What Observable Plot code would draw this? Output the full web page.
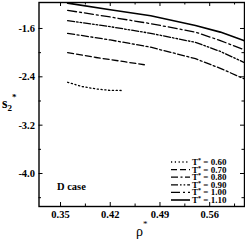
<!DOCTYPE html>
<html><head><meta charset="utf-8">
<script src="https://cdn.jsdelivr.net/npm/d3@7"></script>
<script src="https://cdn.jsdelivr.net/npm/@observablehq/plot@0.6"></script>
<style>
html,body{margin:0;padding:0;background:#fff;}
#chart{position:relative;width:245px;height:241px;}
svg{font-family:"Liberation Serif",serif;}
</style></head>
<body><div id="chart"></div>
<script>
const temps = ["0.60","0.70","0.80","0.90","1.00","1.10"];
const rho06 = [0.36, 0.38, 0.40, 0.42, 0.437];
const s06   = [-2.49, -2.56, -2.60, -2.625, -2.626];
const rho07 = [0.36, 0.40, 0.44, 0.468];
const s07   = [-2.00, -2.08, -2.15, -2.20];
const rhoHi = [0.36, 0.42, 0.477, 0.54, 0.575, 0.608];
const s08   = [-1.68, -1.79, -1.91, -2.10, -2.26, -2.43];
const s09   = [-1.47, -1.57, -1.68, -1.83, -1.98, -2.16];
const s10   = [-1.30, -1.41, -1.52, -1.66, -1.80, -1.95];
const s11   = [-1.18, -1.29, -1.39, -1.55, -1.66, -1.80];
const xTicks = [0.35, 0.42, 0.49, 0.56];
const xMinor = [0.385, 0.455, 0.525, 0.595];
const yTicks = [-1.6, -2.4, -3.2, -4.0];
const yMinor = [-2.0, -2.8, -3.6, -4.4];

const series = [
  {T: temps[0], rho: rho06, s: s06, dash: "1.2,2.6", w: 1.3},
  {T: temps[1], rho: rho07, s: s07, dash: "6,3", w: 1.3},
  {T: temps[2], rho: rhoHi, s: s08, dash: "7,2.5,2,2.5", w: 1.3},
  {T: temps[3], rho: rhoHi, s: s09, dash: "7,2,1.6,2,1.6,2", w: 1.3},
  {T: temps[4], rho: rhoHi, s: s10, dash: "9,3,2,3", w: 1.3},
  {T: temps[5], rho: rhoHi, s: s11, dash: null, w: 1.6}
];

const W = 245, H = 241;
const mL = 38.5, mR = 1, mT = 2, mB = 35;
const innerH = H - mT - mB, innerW = W - mL - mR;

const marks = [];
for (const sr of series) {
  const pts = sr.rho.map((r, i) => ({rho: r, s: sr.s[i]}));
  marks.push(Plot.line(pts, {x: "rho", y: "s", stroke: "#000", strokeWidth: sr.w,
    strokeDasharray: sr.dash || undefined, clip: true}));
}
marks.push(Plot.tickX(xTicks, {x: d => d, insetTop: innerH - 4, stroke: "#000", strokeWidth: 1}));
marks.push(Plot.tickX(xTicks, {x: d => d, insetBottom: innerH - 4, stroke: "#000", strokeWidth: 1}));
marks.push(Plot.tickX(xMinor, {x: d => d, insetTop: innerH - 2.5, stroke: "#000", strokeWidth: 1}));
marks.push(Plot.tickX(xMinor, {x: d => d, insetBottom: innerH - 2.5, stroke: "#000", strokeWidth: 1}));
marks.push(Plot.tickY(yTicks, {y: d => d, insetRight: innerW - 4, stroke: "#000", strokeWidth: 1}));
marks.push(Plot.tickY(yTicks, {y: d => d, insetLeft: innerW - 4, stroke: "#000", strokeWidth: 1}));
marks.push(Plot.tickY(yMinor, {y: d => d, insetRight: innerW - 2.5, stroke: "#000", strokeWidth: 1}));
marks.push(Plot.tickY(yMinor, {y: d => d, insetLeft: innerW - 2.5, stroke: "#000", strokeWidth: 1}));
marks.push(Plot.axisX(xTicks, {tickSize: 0, tickPadding: 4, tickFormat: d3.format(".2f"),
  fontSize: 10.5, fontWeight: "bold", label: null}));
marks.push(Plot.axisY(yTicks, {tickSize: 0, tickPadding: 4, tickFormat: d => d3.format(".1f")(d).replace("−","-"),
  fontSize: 10.5, fontWeight: "bold", label: null}));
marks.push(Plot.frame({stroke: "#000", strokeWidth: 1.4}));

const plot = Plot.plot({
  width: W, height: H,
  marginLeft: mL, marginRight: mR, marginTop: mT, marginBottom: mB,
  style: {fontFamily: "Liberation Serif", background: "#fff", color: "#000"},
  x: {domain: [0.3197, 0.609]},
  y: {domain: [-4.546, -1.17]},
  marks
});
document.getElementById("chart").appendChild(plot);

const svg = d3.select(plot);
const ylab = svg.append("text").attr("x", 2).attr("y", 108).attr("font-size", 14)
  .attr("text-anchor", "start").attr("font-family", "Liberation Serif").attr("font-weight", "bold");
ylab.append("tspan").text("s");
ylab.append("tspan").attr("font-size", 9).attr("dy", 3).text("2");
ylab.append("tspan").attr("font-size", 9).attr("dy", -11).text("*");
const xlab = svg.append("text").attr("x", 136).attr("y", 236).attr("font-size", 14)
  .attr("text-anchor", "start").attr("font-family", "Liberation Serif");
xlab.append("tspan").text("ρ");
xlab.append("tspan").attr("font-size", 9).attr("dy", -9).text("*");

svg.append("text").attr("x", 57).attr("y", 190).attr("font-size", 10.5).attr("text-anchor", "start")
  .attr("font-weight", "bold").attr("font-family", "Liberation Serif").text("D case");

const legY0 = 162, legDy = 7.6;
series.forEach((sr, i) => {
  const y = legY0 + i * legDy;
  svg.append("line").attr("x1", 171).attr("x2", 190).attr("y1", y).attr("y2", y)
    .attr("stroke", "#000").attr("stroke-width", sr.w)
    .attr("stroke-dasharray", sr.dash || null);
  const t = svg.append("text").attr("x", 192).attr("y", y + 3).attr("font-size", 9)
    .attr("text-anchor", "start")
    .attr("font-weight", "bold").attr("font-family", "Liberation Serif");
  t.append("tspan").text("T");
  t.append("tspan").attr("font-size", 6).attr("dy", -3).text("*");
  t.append("tspan").attr("dy", 3).text(" = " + sr.T);
});
</script></body></html>
